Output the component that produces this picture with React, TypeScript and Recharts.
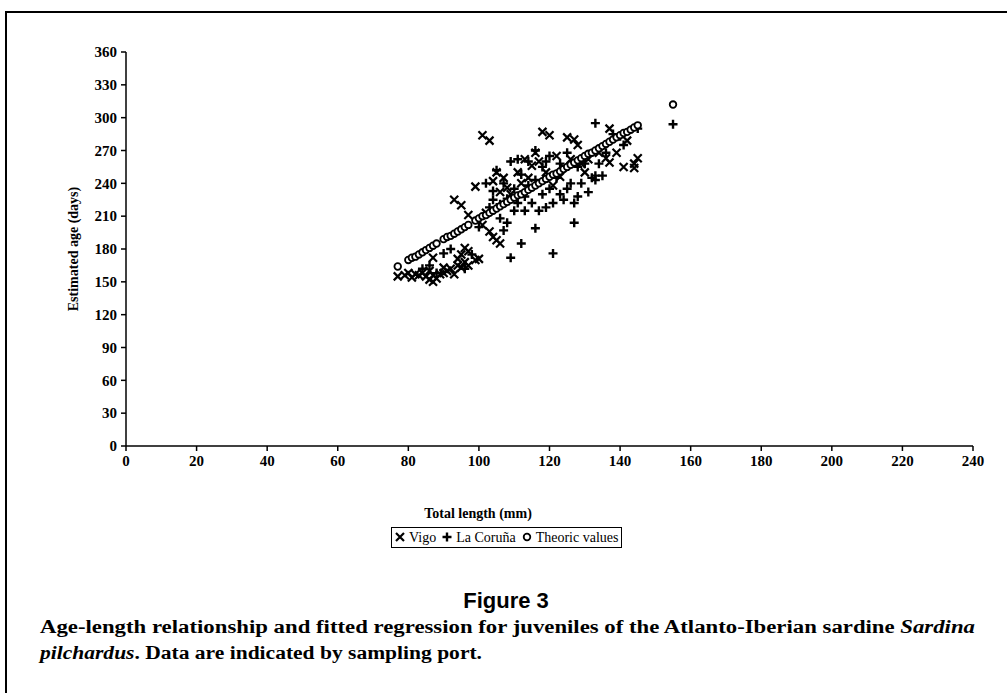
import { ScatterChart, Scatter, XAxis, YAxis, Legend } from "recharts";

// total length (mm), estimated age (days)
const vigoLength = [
  77, 79, 80, 81, 82, 83, 84, 85, 86, 86, 87, 87, 88, 89, 90, 90, 91, 92, 93, 94, 94, 95, 95, 96, 96, 97, 97, 99, 100, 87,
  93, 95, 97, 99, 101, 103, 104, 105, 106, 102, 101, 103,
  104, 105, 106, 107, 108, 109, 110, 111, 112, 113, 114, 115, 116, 117, 118, 119, 120, 121, 122, 123, 124, 125, 126, 127, 128, 129, 130, 131,
  136, 137, 137, 139, 141, 142, 144, 144, 145, 134,
];
const vigoAge = [
  155, 156, 158, 154, 157, 156, 158, 155, 152, 160, 150, 156, 153, 157, 158, 163, 160, 162, 157, 165, 171, 163, 175, 168, 181, 178, 165, 170, 171, 172,
  225, 220, 211, 237, 202, 196, 191, 188, 185, 213, 284, 279,
  242, 250, 232, 245, 236, 230, 226, 250, 240, 262, 245, 256, 268, 260, 287, 250, 284, 238, 265, 246, 255, 282, 262, 280, 275, 258, 250, 262,
  263, 259, 290, 268, 255, 279, 254, 258, 263, 268,
];

const corunaLength = [
  84, 86, 88, 90, 92, 96, 98,
  100, 102, 103, 104, 104, 105, 106, 106, 107, 107, 108, 108, 109, 109, 110, 110, 111, 111, 112, 112, 113, 113, 114, 114, 115, 116, 116, 116, 117,
  118, 118, 119, 119, 120, 120, 121, 121, 122, 123, 123, 124, 125, 125, 126, 127, 127, 128, 128, 129, 130, 131, 132, 133, 133, 133, 134, 135, 136,
  138, 140, 141, 145, 155,
];
const corunaAge = [
  162, 165, 158, 176, 180, 162, 175,
  200, 240, 218, 233, 225, 252, 208, 221, 240, 197, 204, 226, 172, 260, 235, 215, 262, 222, 185, 248, 215, 228, 260, 238, 222, 199, 270, 243, 215,
  230, 255, 260, 218, 235, 265, 176, 222, 245, 230, 258, 225, 235, 268, 240, 204, 222, 255, 228, 240, 258, 232, 245, 247, 243, 295, 258, 247, 268,
  285, 283, 275, 290, 294,
];

const theoricLength = [
  77, 80, 81, 82, 83, 84, 85, 86, 87, 88, 90, 91, 92, 93, 94, 95, 96, 97, 99, 100, 101, 102, 103, 104, 105, 106, 107, 108, 109, 110,
  111, 112, 113, 114, 115, 116, 117, 118, 119, 120, 121, 122, 123, 124, 125, 126, 127, 128, 129, 130, 131, 132, 133, 134, 135, 136, 137, 138,
  139, 140, 141, 142, 143, 144, 145, 155,
];
const theoricAge = [
  164, 170, 172, 173, 175, 177, 179, 181, 183, 185, 189, 191, 192, 194, 196, 198, 200, 202, 206, 208, 210, 211, 213, 215, 217, 219, 221, 223, 225, 227,
  229, 230, 232, 234, 236, 238, 240, 242, 244, 246, 248, 249, 251, 253, 255, 257, 259, 261, 263, 265, 267, 268, 270, 272, 274, 276, 278, 280,
  282, 284, 286, 287, 289, 291, 293, 312,
];

const xTicks = [0, 20, 40, 60, 80, 100, 120, 140, 160, 180, 200, 220, 240];
const yTicks = [0, 30, 60, 90, 120, 150, 180, 210, 240, 270, 300, 330, 360];

const toPoints = (xs: number[], ys: number[]) => xs.map((x, i) => ({ x, y: ys[i] }));

const vigo = toPoints(vigoLength, vigoAge);
const coruna = toPoints(corunaLength, corunaAge);
const theoric = toPoints(theoricLength, theoricAge);

const SERIF = "'Liberation Serif', 'Times New Roman', serif";

const CrossMark = ({ cx, cy }: any) => (
  <path
    d={`M${cx - 4},${cy - 4}L${cx + 4},${cy + 4}M${cx + 4},${cy - 4}L${cx - 4},${cy + 4}`}
    stroke="#000"
    strokeWidth={2.2}
  />
);

const PlusMark = ({ cx, cy }: any) => (
  <path
    d={`M${cx - 4.5},${cy}L${cx + 4.5},${cy}M${cx},${cy - 4.5}L${cx},${cy + 4.5}`}
    stroke="#000"
    strokeWidth={2.4}
  />
);

const RingMark = ({ cx, cy }: any) => (
  <circle cx={cx} cy={cy} r={3.3} fill="#fff" stroke="#000" strokeWidth={1.8} />
);

const LegendBox = () => (
  <div
    style={{
      border: "1px solid #000",
      fontFamily: SERIF,
      fontSize: 14,
      lineHeight: "19px",
      padding: "0 3px",
      whiteSpace: "nowrap",
      background: "#fff",
    }}
  >
    <svg width={10} height={10} style={{ marginRight: 4 }}>
      <CrossMark cx={5} cy={5} />
    </svg>
    Vigo
    <svg width={10} height={10} style={{ margin: "0 4px 0 6px" }}>
      <PlusMark cx={5} cy={5} />
    </svg>
    La Coruña
    <svg width={10} height={10} style={{ margin: "0 4px 0 6px" }}>
      <RingMark cx={5} cy={5} />
    </svg>
    Theoric values
  </div>
);

export default function App() {
  return (
    <div style={{ position: "absolute", left: 0, top: 0, width: 1007, height: 693, background: "#fff", overflow: "hidden" }}>
      <div
        style={{
          position: "absolute",
          left: 5,
          top: 11,
          width: 1020,
          height: 700,
          borderTop: "2px solid #000",
          borderLeft: "2px solid #000",
        }}
      />
      <div style={{ position: "absolute", left: 0, top: 0 }}>
        <ScatterChart width={1007} height={560} margin={{ top: 52, right: 34, left: 66, bottom: 84 }}>
          <XAxis
            type="number"
            dataKey="x"
            domain={[0, 240]}
            ticks={xTicks}
            interval={0}
            tickSize={5}
            tickMargin={4}
            height={30}
            stroke="#000"
            strokeWidth={1.5}
            tick={{ fill: "#000", fontFamily: SERIF, fontSize: 15, fontWeight: 700 }}
            label={({ viewBox }: any) => (
              <text
                x={viewBox.x + 352}
                y={viewBox.y + 72}
                textAnchor="middle"
                fontFamily={SERIF}
                fontSize={14}
                fontWeight={700}
                fill="#000"
              >
                Total length (mm)
              </text>
            )}
          />
          <YAxis
            type="number"
            dataKey="y"
            domain={[0, 360]}
            ticks={yTicks}
            interval={0}
            width={60}
            tickSize={5}
            tickMargin={4}
            stroke="#000"
            strokeWidth={1.5}
            tick={{ fill: "#000", fontFamily: SERIF, fontSize: 15, fontWeight: 700 }}
            label={({ viewBox }: any) => {
              const x = viewBox.x + 12;
              const y = viewBox.y + viewBox.height / 2;
              return (
                <text
                  x={x}
                  y={y}
                  transform={`rotate(-90, ${x}, ${y})`}
                  textAnchor="middle"
                  fontFamily={SERIF}
                  fontSize={14}
                  fontWeight={700}
                  fill="#000"
                >
                  Estimated age (days)
                </text>
              );
            }}
          />
          <Scatter name="Vigo" data={vigo} shape={CrossMark} isAnimationActive={false} />
          <Scatter name="La Coruña" data={coruna} shape={PlusMark} isAnimationActive={false} />
          <Scatter name="Theoric values" data={theoric} shape={RingMark} isAnimationActive={false} />
          <Legend
            layout="horizontal"
            verticalAlign="middle"
            align="center"
            content={() => <LegendBox />}
            wrapperStyle={{ left: 391, top: 527, width: "auto" }}
          />
        </ScatterChart>
      </div>
      <svg width={1007} height={693} style={{ position: "absolute", left: 0, top: 0, pointerEvents: "none" }}>
        <text
          x={506}
          y={608}
          textAnchor="middle"
          fontFamily="'Liberation Sans', Arial, sans-serif"
          fontWeight={700}
          fontSize={22}
          fill="#000"
        >
          Figure 3
        </text>
        <text
          x={40}
          y={633}
          textLength={935}
          lengthAdjust="spacingAndGlyphs"
          fontFamily={SERIF}
          fontWeight={700}
          fontSize={18}
          fill="#000"
        >
          Age-length relationship and fitted regression for juveniles of the Atlanto-Iberian sardine{" "}
          <tspan fontStyle="italic">Sardina</tspan>
        </text>
        <text
          x={40}
          y={659}
          textLength={442}
          lengthAdjust="spacingAndGlyphs"
          fontFamily={SERIF}
          fontWeight={700}
          fontSize={18}
          fill="#000"
        >
          <tspan fontStyle="italic">pilchardus</tspan>. Data are indicated by sampling port.
        </text>
      </svg>
    </div>
  );
}
